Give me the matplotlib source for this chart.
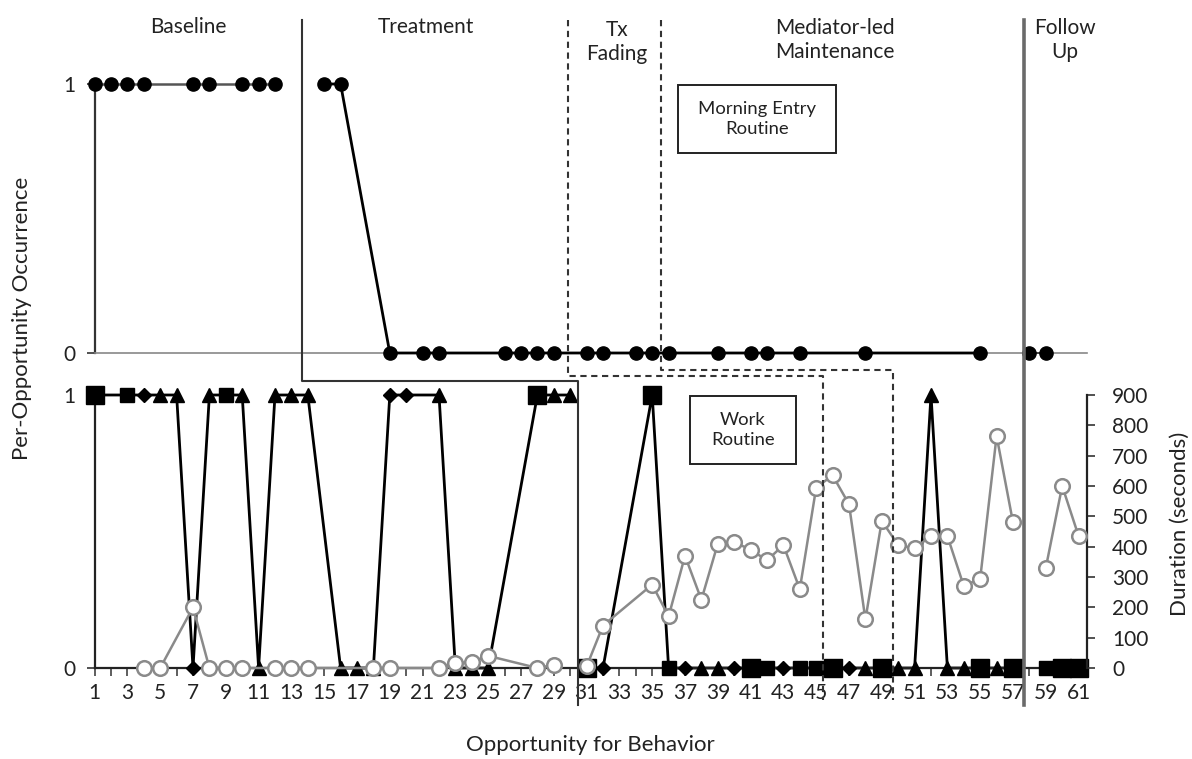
import matplotlib
matplotlib.use("Agg")
import matplotlib.pyplot as plt
import matplotlib.transforms as mtransforms
from matplotlib.lines import Line2D
from matplotlib.patches import Rectangle


# =========================================================
# 0) DATA
# =========================================================
# Morning entry routine (top panel), occurrence per opportunity
MORNING_BL_X = [1, 2, 3, 4, 7, 8, 10, 11, 12]
MORNING_BL_Y = [1, 1, 1, 1, 1, 1, 1, 1, 1]
MORNING_TX_X = [15, 16, 19, 21, 22, 26, 27, 28, 29, 31, 32, 34, 35, 36, 39, 41, 42, 44, 48, 55]
MORNING_TX_Y = [1, 1, 0, 0, 0, 0, 0, 0, 0, 0, 0, 0, 0, 0, 0, 0, 0, 0, 0, 0]
MORNING_FU_X = [58, 59]
MORNING_FU_Y = [0, 0]

# Work routine (bottom panel), occurrence per opportunity + marker group
WORK_BL_X = [1, 3, 4, 5, 6, 7, 8, 9, 10, 11, 12, 13, 14, 16, 17, 18, 19, 20, 22, 23, 24, 25, 28, 29, 30]
WORK_BL_Y = [1, 1, 1, 1, 1, 0, 1, 1, 1, 0, 1, 1, 1, 0, 0, 0, 1, 1, 1, 0, 0, 0, 1, 1, 1]
WORK_BL_G = ["A", "B", "C", "D", "D", "C", "D", "B", "D", "D", "D", "D", "D", "D", "D", "D",
             "C", "C", "D", "D", "D", "D", "A", "D", "D"]
WORK_TX_X = [31, 32, 35, 36, 37, 38, 39, 40, 41, 42, 43, 44, 45, 46, 47, 48, 49, 50, 51, 52, 53, 54, 55, 56, 57]
WORK_TX_Y = [0, 0, 1, 0, 0, 0, 0, 0, 0, 0, 0, 0, 0, 0, 0, 0, 0, 0, 0, 1, 0, 0, 0, 0, 0]
WORK_TX_G = ["A", "C", "A", "B", "C", "D", "D", "C", "A", "B", "C", "B", "B", "A", "C", "D",
             "A", "D", "D", "D", "D", "D", "A", "D", "A"]
WORK_FU_X = [59, 60, 61]
WORK_FU_Y = [0, 0, 0]
WORK_FU_G = ["B", "A", "A"]

# Work routine duration (seconds, right axis)
DUR_BL_X = [4, 5, 7, 8, 9, 10, 12, 13, 14, 18, 19, 22, 23, 24, 25, 28, 29]
DUR_BL_Y = [0, 0, 200, 0, 0, 0, 0, 0, 0, 0, 0, 0, 15, 20, 40, 0, 10]
DUR_TX_X = [31, 32, 35, 36, 37, 38, 39, 40, 41, 42, 43, 44, 45, 46, 47, 48, 49, 50, 51, 52, 53, 54, 55, 56, 57]
DUR_TX_Y = [5, 140, 275, 170, 370, 225, 410, 415, 390, 355, 405, 260, 595, 635, 540, 160, 485,
            405, 395, 435, 435, 270, 295, 765, 480]
DUR_FU_X = [59, 60, 61]
DUR_FU_Y = [330, 600, 435]

PHASE_LABELS = ["Baseline", "Treatment", "Tx\nFading", "Mediator-led\nMaintenance", "Follow\nUp"]
X_TICKS = list(range(1, 62))
DUR_TICKS = [0, 100, 200, 300, 400, 500, 600, 700, 800, 900]

# =========================================================
# 1) LAYOUT / STYLE
# =========================================================
W, H = 1192, 759
plt.rcParams["font.family"] = ["Lato", "DejaVu Sans"]
TXT = "#222222"
TICK_FS = 15
PHASE_FS = 15
BOX_FS = 13.3
LABEL_FS = 16

GROUP_STYLE = {
    "A": dict(marker="s", ms=13),
    "B": dict(marker="s", ms=9.5),
    "C": dict(marker="D", ms=7),
    "D": dict(marker="^", ms=9.5),
}


def fx(px):
    return px / W


def fy(py):
    return 1 - py / H


XLIM = (1, 1 + (1087 - 94.6) / 16.4)

fig = plt.figure(figsize=(W / 100, H / 100), dpi=100)
ax_top = fig.add_axes([fx(94.6), fy(353), fx(1087) - fx(94.6), fy(84) - fy(353)])
ax_bot = fig.add_axes([fx(94.6), fy(668), fx(1087) - fx(94.6), fy(395) - fy(668)])
ax_dur = ax_bot.twinx()

# ---------------------------------------------------------
# Top panel
# ---------------------------------------------------------
ax_top.set_xlim(*XLIM)
ax_top.set_ylim(0, 1)
for s in ["top", "right"]:
    ax_top.spines[s].set_visible(False)
ax_top.spines["left"].set_color("#333333")
ax_top.spines["left"].set_linewidth(1.6)
ax_top.spines["bottom"].set_color("#888888")
ax_top.spines["bottom"].set_linewidth(1.2)
ax_top.set_xticks([])
ax_top.set_yticks([0, 1])
ax_top.set_yticklabels(["0", "1"])
ax_top.tick_params(axis="y", length=6, width=1.2, color="#333333", labelsize=TICK_FS,
                   labelcolor=TXT, pad=8)
ax_top.patch.set_alpha(0)

ax_top.plot(MORNING_BL_X, MORNING_BL_Y, color="#555555", lw=1.8, marker="o", ms=9.5,
            mfc="black", mec="black", clip_on=False, zorder=3)
ax_top.plot(MORNING_TX_X, MORNING_TX_Y, color="black", lw=2.0, marker="o", ms=9.5,
            mfc="black", mec="black", clip_on=False, zorder=3)
ax_top.plot(MORNING_FU_X, MORNING_FU_Y, color="#333333", lw=1.2, marker="o", ms=9.5,
            mfc="black", mec="black", clip_on=False, zorder=3)

# ---------------------------------------------------------
# Bottom panel
# ---------------------------------------------------------
ax_bot.set_xlim(*XLIM)
ax_bot.set_ylim(0, 1)
ax_bot.spines["top"].set_visible(False)
ax_bot.spines["right"].set_visible(False)
for s in ["left", "bottom"]:
    ax_bot.spines[s].set_color("#222222")
    ax_bot.spines[s].set_linewidth(1.6)
ax_bot.set_xticks(X_TICKS)
ax_bot.set_xticklabels([str(t) if t % 2 == 1 else "" for t in X_TICKS])
ax_bot.tick_params(axis="x", length=6, width=1.1, color="#333333", labelsize=TICK_FS,
                   labelcolor=TXT, pad=5)
ax_bot.set_yticks([0, 1])
ax_bot.set_yticklabels(["0", "1"])
ax_bot.tick_params(axis="y", length=6, width=1.2, color="#333333", labelsize=TICK_FS,
                   labelcolor=TXT, pad=8)

for xs, ys, gs in [(WORK_BL_X, WORK_BL_Y, WORK_BL_G),
                   (WORK_TX_X, WORK_TX_Y, WORK_TX_G),
                   (WORK_FU_X, WORK_FU_Y, WORK_FU_G)]:
    ax_bot.plot(xs, ys, color="black", lw=2.0, clip_on=False, zorder=2)
    for g, st in GROUP_STYLE.items():
        px = [x for x, gg in zip(xs, gs) if gg == g]
        py = [y for y, gg in zip(ys, gs) if gg == g]
        ax_bot.plot(px, py, ls="none", marker=st["marker"], ms=st["ms"],
                    mfc="black", mec="black", clip_on=False, zorder=3)

ax_dur.set_ylim(0, 900)
ax_dur.set_xlim(*XLIM)
for s in ["top", "left", "bottom"]:
    ax_dur.spines[s].set_visible(False)
ax_dur.spines["right"].set_color("#222222")
ax_dur.spines["right"].set_linewidth(1.6)
ax_dur.set_yticks(DUR_TICKS)
ax_dur.tick_params(axis="y", length=6, width=1.2, color="#333333", labelsize=TICK_FS,
                   labelcolor=TXT, pad=12)

for xs, ys in [(DUR_BL_X, DUR_BL_Y), (DUR_TX_X, DUR_TX_Y), (DUR_FU_X, DUR_FU_Y)]:
    ax_dur.plot(xs, ys, color="#8a8a8a", lw=1.8, marker="o", ms=10.5, mfc="white",
                mec="#8a8a8a", mew=1.8, clip_on=False, zorder=4)

# ---------------------------------------------------------
# Phase change lines (span both panels)
# ---------------------------------------------------------
tr = mtransforms.blended_transform_factory(ax_bot.transData, fig.transFigure)
solid = dict(color="#333333", lw=1.5)
dash = dict(color="#333333", lw=1.5, ls=(0, (3, 2.2)))
fig.add_artist(Line2D([13.65, 13.65, 30.5, 30.5], [fy(20), fy(381), fy(381), fy(705)],
                      transform=tr, **solid))
fig.add_artist(Line2D([29.87, 29.87, 45.4, 45.4], [fy(20), fy(376), fy(376), fy(700)],
                      transform=tr, **dash))
fig.add_artist(Line2D([35.55, 35.55, 49.7, 49.7], [fy(20), fy(370), fy(370), fy(700)],
                      transform=tr, **dash))
fig.add_artist(Line2D([57.67, 57.67], [fy(20), fy(705)], transform=tr,
                      color="#6a6a6a", lw=2.6))

# ---------------------------------------------------------
# Text
# ---------------------------------------------------------
label_pos = [(188, 27), (426, 27), (617, 42), (835, 40), (1065, 40)]
for lab, (x, y) in zip(PHASE_LABELS, label_pos):
    fig.text(fx(x), fy(y), lab, ha="center", va="center", fontsize=PHASE_FS, color=TXT,
             linespacing=1.3)

fig.add_artist(Rectangle((fx(678), fy(153)), fx(836) - fx(678), fy(85) - fy(153),
                         transform=fig.transFigure, fill=False, ec="#222222", lw=1.4))
fig.text(fx(757), fy(119), "Morning Entry\nRoutine", ha="center", va="center",
         fontsize=BOX_FS, color=TXT, linespacing=1.3)
fig.add_artist(Rectangle((fx(690), fy(464)), fx(796) - fx(690), fy(396) - fy(464),
                         transform=fig.transFigure, fill=False, ec="#222222", lw=1.4))
fig.text(fx(743), fy(430), "Work\nRoutine", ha="center", va="center",
         fontsize=BOX_FS, color=TXT, linespacing=1.3)

fig.text(fx(22), fy(318), "Per-Opportunity Occurrence", rotation=90, ha="center",
         va="center", fontsize=LABEL_FS, color=TXT)
fig.text(fx(1180), fy(524), "Duration (seconds)", rotation=90, ha="center",
         va="center", fontsize=LABEL_FS, color=TXT)
fig.text(fx(590), fy(745), "Opportunity for Behavior", ha="center", va="center",
         fontsize=LABEL_FS, color=TXT)

fig.savefig("out.png", dpi=100)
